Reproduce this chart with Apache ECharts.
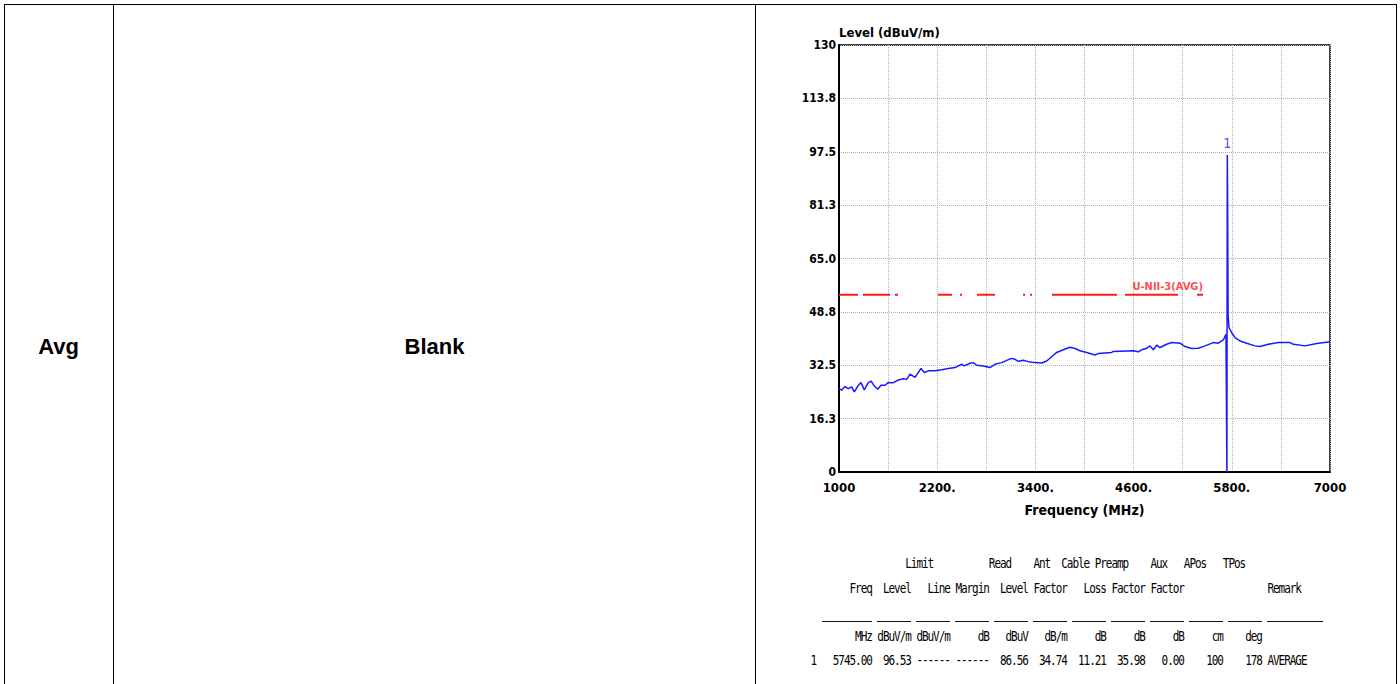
<!DOCTYPE html>
<html>
<head>
<meta charset="utf-8">
<script src="https://cdn.jsdelivr.net/npm/echarts@6/dist/echarts.min.js"></script>
<style>
  html, body { margin:0; padding:0; width:1400px; height:684px; overflow:hidden; background:#fff; }
  .ln { position:absolute; background:#000; }
  .cell { position:absolute; font-family:'Liberation Sans', Arial, sans-serif; font-weight:bold; font-size:22px; color:#000; transform:translate(-50%,-50%); white-space:nowrap; }
  #chart { position:absolute; left:0; top:0; width:1400px; height:684px; }
  .mono { position:absolute; left:810.5px; font-family:'DejaVu Sans Mono', monospace; font-size:11px; letter-spacing:-1.05px; white-space:pre; color:#000; line-height:14px; transform:scaleY(1.2); transform-origin:0 50%; margin:0; }
  .ul { position:absolute; top:620.5px; height:1.5px; background:#111; }
</style>
</head>
<body>
<div class="ln" style="left:4px; top:4px; width:1393px; height:1px;"></div>
<div class="ln" style="left:4px; top:4px; width:1px; height:690px;"></div>
<div class="ln" style="left:113px; top:4px; width:1px; height:690px;"></div>
<div class="ln" style="left:755px; top:4px; width:1px; height:690px;"></div>
<div class="ln" style="left:1396px; top:4px; width:1px; height:690px;"></div>
<div class="cell" style="left:58.5px; top:347px;">Avg</div>
<div class="cell" style="left:434.5px; top:347px;">Blank</div>
<div id="chart"></div>
<pre class="mono" style="top:557px;">                 Limit          Read    Ant  Cable Preamp    Aux   APos   TPos</pre>
<pre class="mono" style="top:582px;">       Freq  Level   Line Margin  Level Factor   Loss Factor Factor               Remark</pre>
<pre class="mono" style="top:630px;">        MHz dBuV/m dBuV/m     dB   dBuV   dB/m     dB     dB     dB     cm    deg</pre>
<pre class="mono" style="top:654px;">1   5745.00  96.53 ------ ------  86.56  34.74  11.21  35.98   0.00    100    178 AVERAGE</pre>
<div id="uls"></div>
<script>
// ---- data ----
const freqMHz = [1000,1033,1073,1114,1155,1187,1236,1269,1309,1358,1391,1431,1473,1513,1562,1602,1664,1725,1786,1827,1868,1929,2002,2042,2091,2173,2255,2336,2418,2499,2531,2601,2641,2683,2763,2845,2906,2988,3049,3110,3151,3191,3252,3313,3395,3477,3538,3599,3660,3741,3823,3884,3945,4027,4067,4128,4169,4332,4352,4596,4657,4699,4760,4800,4841,4882,4923,5004,5066,5167,5228,5310,5391,5473,5574,5635,5696,5729,5740,5745,5749,5755,5765,5799,5839,5900,5982,6083,6144,6246,6368,6511,6552,6695,6838,6980,7000];
const levelDbuvm = [25.4,24.9,26.0,25.4,25.9,24.4,26.4,27.2,25.0,27.2,27.7,26.2,25.2,26.4,26.4,27.2,27.2,28.0,28.4,28.2,29.8,28.8,31.5,30.3,30.8,30.8,31.1,31.5,31.8,32.8,32.3,33.1,33.3,32.5,32.3,31.8,32.8,33.3,34.0,34.6,34.3,33.7,34.0,33.6,33.3,33.2,33.8,35.1,36.4,37.2,38.0,37.6,36.9,36.4,36.1,35.6,36.1,36.4,36.7,36.9,36.6,37.2,37.7,38.4,37.2,38.6,37.9,38.9,39.4,39.2,38.2,37.6,37.7,38.4,39.4,39.2,40.2,41.9,0,96.53,83.8,48.0,44.0,42.4,40.9,39.9,39.2,38.4,38.2,38.9,39.4,39.4,38.9,38.4,39.1,39.6,39.6];
const limitLevel = 54;
const limitSegments = [[1000,1232],[1293,1623],[1684,1721],[2210,2381],[2479,2503],[2686,2906],[3249,3273],[3334,3359],[3603,4397],[4495,5143],[5375,5448]];
const limitLabel = 'U-NII-3(AVG)';
const limitLabelFreq = 5448;
const markerFreq = [5745];
const markerLevel = [96.53];
const markerNames = ['1'];
const yTickLabels = ['0','16.3','32.5','48.8','65.0','81.3','97.5','113.8','130'];
const xTickLabels = ['1000','2200.','3400.','4600.','5800.','7000'];
const xStart = 1000;

// table underline spans (character columns of the fixed-width report)
const underlineCols = [[2,11],[12,18],[19,25],[26,32],[33,39],[40,46],[47,53],[54,60],[61,67],[68,74],[75,81],[82,92]];
const uls = document.getElementById('uls');
underlineCols.forEach(c => {
  const d = document.createElement('div');
  d.className = 'ul';
  d.style.left = (810.5 + c[0] * 5.57) + 'px';
  d.style.width = ((c[1] - c[0]) * 5.57) + 'px';
  uls.appendChild(d);
});

// ---- build ----
const narrow = "'Liberation Sans Narrow','DejaVu Sans Condensed','Arial Narrow',sans-serif";
const traceData = freqMHz.map((f, i) => [f - xStart, levelDbuvm[i]]);
const limitData = [];
limitSegments.forEach((s, i) => {
  limitData.push([s[0] - xStart, limitLevel]);
  limitData.push([s[1] - xStart, limitLevel]);
  if (i < limitSegments.length - 1) limitData.push([(s[1] + limitSegments[i+1][0]) / 2 - xStart, '-']);
});
const markerData = markerFreq.map((f, i) => ({ value: [f - xStart, markerLevel[i]], name: markerNames[i] }));

const chart = echarts.init(document.getElementById('chart'), null, { renderer: 'svg' });
chart.setOption({
  animation: false,
  textStyle: { fontFamily: narrow },
  grid: { left: 839, top: 45, width: 491, height: 427, show: true, borderColor: '#000', borderWidth: 1.5, containLabel: false },
  xAxis: {
    type: 'value', min: 0, max: 6000, interval: 600,
    name: 'Frequency (MHz)', nameLocation: 'middle', nameGap: 31,
    nameTextStyle: { fontFamily: narrow, fontSize: 14, fontWeight: 'bold', color: '#000' },
    axisLine: { show: true, lineStyle: { color: '#000', width: 2 } },
    axisTick: { show: false },
    axisLabel: {
      interval: 0, margin: 9, showMinLabel: true, showMaxLabel: true,
      fontFamily: narrow, fontSize: 13, fontWeight: 'bold', color: '#000',
      formatter: v => (Math.round(v) % 1200 === 0 ? xTickLabels[Math.round(v) / 1200] : '')
    },
    splitLine: { show: true, lineStyle: { color: '#b0b0b0', width: 1, type: 'dotted' } }
  },
  yAxis: {
    type: 'value', min: 0, max: 130, interval: 16.25,
    name: 'Level (dBuV/m)', nameLocation: 'end', nameGap: 3,
    nameTextStyle: { fontFamily: narrow, fontSize: 13, fontWeight: 'bold', color: '#000', align: 'left', verticalAlign: 'bottom', padding: 0 },
    axisLine: { show: true, lineStyle: { color: '#000', width: 2 } },
    axisTick: { show: false },
    axisLabel: {
      margin: 3, fontFamily: narrow, fontSize: 12, fontWeight: 'bold', color: '#000',
      formatter: v => yTickLabels[Math.round(v / 16.25)]
    },
    splitLine: { show: true, lineStyle: { color: '#b0b0b0', width: 1, type: 'dotted' } }
  },
  series: [
    {
      name: 'Limit', type: 'line', data: limitData, showSymbol: false, symbol: 'none',
      connectNulls: false, lineStyle: { color: '#ff1a1a', width: 2 }, z: 2
    },
    {
      name: 'Level', type: 'line', data: traceData, showSymbol: false, symbol: 'none',
      lineStyle: { color: '#1a1aff', width: 1.5 }, z: 3
    },
    {
      name: 'LimitLabel', type: 'scatter', data: [[limitLabelFreq - xStart, limitLevel]],
      symbol: 'rect', symbolSize: 1, itemStyle: { color: 'rgba(0,0,0,0)' }, z: 4,
      label: { show: true, position: 'top', distance: 2, align: 'right', formatter: limitLabel,
        fontFamily: narrow, fontSize: 11, fontWeight: 'bold', color: '#ff1a1a' }
    },
    {
      name: 'Marker', type: 'scatter', data: markerData,
      symbol: 'rect', symbolSize: 1, itemStyle: { color: 'rgba(0,0,0,0)' }, z: 4,
      label: { show: true, position: 'top', distance: 4, formatter: p => p.name,
        fontFamily: narrow, fontSize: 14, color: '#2222ff' }
    }
  ]
});
</script>
</body>
</html>
